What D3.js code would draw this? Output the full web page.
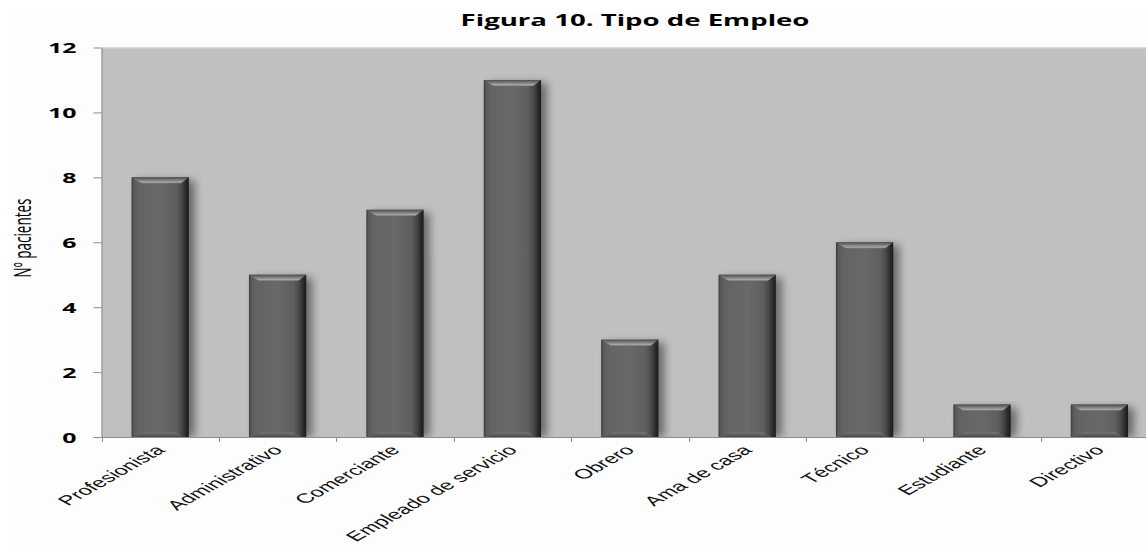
<!DOCTYPE html>
<html>
<head>
<meta charset="utf-8">
<script src="https://cdn.jsdelivr.net/npm/d3@7"></script>
<style>
  html, body { margin: 0; padding: 0; background: #ffffff; }
  svg { display: block; }
</style>
</head>
<body>
<svg id="chart" width="1146" height="546"></svg>
<script>
// Tipo de empleo de los pacientes
const categories = ["Profesionista", "Administrativo", "Comerciante", "Empleado de servicio",
                    "Obrero", "Ama de casa", "Técnico", "Estudiante", "Directivo"];
const pacientes = [8, 5, 7, 11, 3, 5, 6, 1, 1];
const yTicks = [0, 2, 4, 6, 8, 10, 12];
const titleText = "Figura 10. Tipo de Empleo";
const yTitle = "Nº pacientes";

const W = 1146, H = 546;
const SX = 1.78;                     // horizontal stretch applied to all text
const plot = { left: 101.5, top: 47.5, bottom: 437 };
const step = 117.4;

const svg = d3.select("#chart");
const defs = svg.append("defs");

// face gradient (left to right)
const face = defs.append("linearGradient").attr("id", "face").attr("x1", 0).attr("x2", 1).attr("y1", 0).attr("y2", 0);
[["0%", "#3a3a3a"], ["4%", "#5a5a5a"], ["12%", "#636363"], ["50%", "#696969"], ["78%", "#5e5e5e"],
 ["88%", "#464646"], ["95%", "#2a2a2a"], ["100%", "#1a1a1a"]]
  .forEach(([o, c]) => face.append("stop").attr("offset", o).attr("stop-color", c));

// top bevel gradient
const topG = defs.append("linearGradient").attr("id", "topBevel").attr("x1", 0).attr("x2", 0).attr("y1", 0).attr("y2", 1);
[["0%", "#4e4e4e"], ["45%", "#7c7c7c"], ["80%", "#a4a4a4"], ["100%", "#8a8a8a"]]
  .forEach(([o, c]) => topG.append("stop").attr("offset", o).attr("stop-color", c));

// bottom bevel gradient
const botG = defs.append("linearGradient").attr("id", "botBevel").attr("x1", 0).attr("x2", 0).attr("y1", 0).attr("y2", 1);
[["0%", "#737373"], ["40%", "#656565"], ["100%", "#4a4a4a"]]
  .forEach(([o, c]) => botG.append("stop").attr("offset", o).attr("stop-color", c));

// soft shadow
const blur = defs.append("filter").attr("id", "shadow").attr("x", "-50%").attr("y", "-20%").attr("width", "200%").attr("height", "140%");
blur.append("feGaussianBlur").attr("stdDeviation", 4);

const clip = defs.append("clipPath").attr("id", "plotClip");

// scales
const x = d3.scaleBand().domain(categories).range([plot.left, plot.left + step * categories.length]).padding(0);
const y = d3.scaleLinear().domain([0, 12]).range([plot.bottom, plot.top]);
const barW = x.bandwidth() * 0.488;

clip.append("rect").attr("x", plot.left).attr("y", plot.top)
  .attr("width", W - plot.left).attr("height", plot.bottom - plot.top);

// chart area
svg.append("rect").attr("x", 10).attr("y", 12).attr("width", W - 10).attr("height", H - 12).attr("fill", "#fdfdfd");

// plot area
svg.append("rect").attr("x", plot.left).attr("y", plot.top)
  .attr("width", W - plot.left).attr("height", plot.bottom - plot.top).attr("fill", "#c0c0c0");
svg.append("line").attr("x1", plot.left).attr("x2", W).attr("y1", plot.top + 0.5).attr("y2", plot.top + 0.5)
  .attr("stroke", "#d6d6d6");

// bars
const bars = svg.append("g").attr("clip-path", "url(#plotClip)")
  .selectAll("g.bar").data(categories.map((c, i) => ({ c, v: pacientes[i] })))
  .join("g").attr("class", "bar");

bars.append("rect")
  .attr("x", d => x(d.c) + (x.bandwidth() - barW) / 2 + 6)
  .attr("y", d => y(d.v) + 3)
  .attr("width", barW)
  .attr("height", d => plot.bottom - y(d.v) - 3)
  .attr("fill", "#000").attr("opacity", 0.45).attr("filter", "url(#shadow)");

bars.append("rect")
  .attr("x", d => x(d.c) + (x.bandwidth() - barW) / 2)
  .attr("y", d => y(d.v))
  .attr("width", barW)
  .attr("height", d => plot.bottom - y(d.v))
  .attr("fill", "url(#face)");

const bvH = 6, bvL = 10, bvR = 8;
bars.append("polygon")
  .attr("points", d => {
    const x0 = x(d.c) + (x.bandwidth() - barW) / 2, x1 = x0 + barW, y0 = y(d.v);
    return [[x0, y0], [x1, y0], [x1 - bvR, y0 + bvH], [x0 + bvL, y0 + bvH]].join(" ");
  })
  .attr("fill", "url(#topBevel)");

bars.append("polygon")
  .attr("points", d => {
    const x0 = x(d.c) + (x.bandwidth() - barW) / 2, x1 = x0 + barW, y0 = plot.bottom;
    return [[x0 + 3, y0], [x1 - 5, y0], [x1 - 5 - bvR, y0 - 5], [x0 + 3 + bvL, y0 - 5]].join(" ");
  })
  .attr("fill", "url(#botBevel)");

// y axis
const yAxis = svg.append("g").attr("transform", `translate(${plot.left},0)`)
  .call(d3.axisLeft(y).tickValues(yTicks).tickSize(8).tickSizeOuter(0));
yAxis.select(".domain").attr("stroke", "#8c8c8c");
yAxis.selectAll(".tick line").attr("stroke", "#8c8c8c");
yAxis.selectAll(".tick text")
  .attr("x", null).attr("dy", "0.36em")
  .attr("transform", `translate(-25,0) scale(${SX},1)`)
  .attr("text-anchor", "end")
  .attr("fill", "#000")
  .style("font-family", "'Open Sans', sans-serif")
  .style("font-weight", "bold")
  .style("font-size", "14px");

// x axis line and boundary ticks
svg.append("line").attr("x1", plot.left).attr("x2", W)
  .attr("y1", plot.bottom + 0.5).attr("y2", plot.bottom + 0.5).attr("stroke", "#8c8c8c");
svg.append("g").selectAll("line")
  .data(categories.map(c => x(c)))
  .join("line")
  .attr("x1", d => Math.round(d) + 0.5).attr("x2", d => Math.round(d) + 0.5)
  .attr("y1", plot.bottom).attr("y2", plot.bottom + 5)
  .attr("stroke", "#8c8c8c");

// category labels
svg.append("g").selectAll("text")
  .data(categories)
  .join("text")
  .attr("transform", d => `translate(${x(d) + x.bandwidth() / 2 + 6},${plot.bottom + 14}) scale(${SX},1) rotate(-45)`)
  .attr("text-anchor", "end")
  .attr("fill", "#111")
  .style("font-family", "'Liberation Sans', Arial, sans-serif")
  .style("font-size", "13.5px")
  .text(d => d);

// axis title
svg.append("text")
  .attr("transform", `translate(31,238) scale(${SX},1) rotate(-90)`)
  .attr("text-anchor", "middle")
  .attr("fill", "#000")
  .style("font-family", "'Open Sans', sans-serif")
  .style("font-size", "13.5px")
  .text(yTitle);

// chart title
svg.append("text")
  .attr("transform", `translate(635,26) scale(${SX},1)`)
  .attr("text-anchor", "middle")
  .attr("fill", "#000")
  .style("font-family", "'Open Sans', sans-serif")
  .style("font-weight", "bold")
  .style("font-size", "15.5px")
  .text(titleText);
</script>
</body>
</html>
